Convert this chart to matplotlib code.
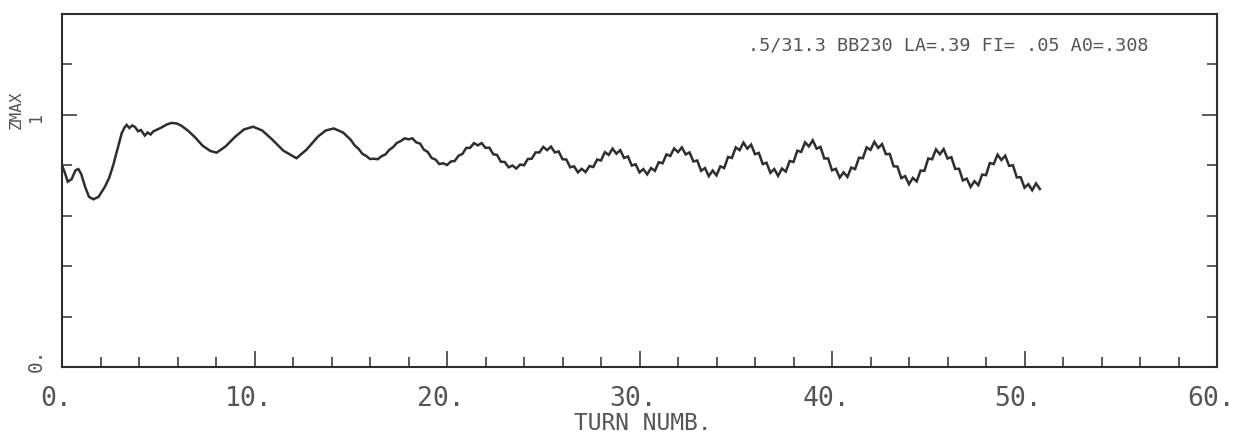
import numpy as np
import matplotlib
matplotlib.use("Agg")
import matplotlib.pyplot as plt
import matplotlib.transforms as mtransforms
from matplotlib.ticker import MultipleLocator, FixedLocator

# ---- data ----
turn_early = [0.0, 0.15, 0.3, 0.5, 0.7, 0.85, 1.0, 1.2, 1.4, 1.63, 1.9, 2.23, 2.45, 2.66,
              2.9, 3.1, 3.25, 3.36, 3.5, 3.65, 3.79, 3.95, 4.1, 4.3, 4.45, 4.6, 4.75, 4.9,
              5.17, 5.45, 5.69, 5.95, 6.2, 6.55, 6.9, 7.3, 7.7, 8.03, 8.5, 8.98, 9.45, 9.93,
              10.4, 10.88, 11.5, 12.18, 12.7, 13.3, 13.7, 14.12, 14.6]
zmax_early = [0.80, 0.77, 0.735, 0.745, 0.78, 0.785, 0.765, 0.715, 0.675, 0.665, 0.675, 0.715,
              0.75, 0.80, 0.87, 0.927, 0.950, 0.960, 0.948, 0.958, 0.952, 0.935, 0.940, 0.918,
              0.930, 0.922, 0.935, 0.940, 0.950, 0.962, 0.968, 0.966, 0.957, 0.937, 0.912,
              0.878, 0.857, 0.850, 0.875, 0.912, 0.942, 0.953, 0.938, 0.905, 0.858, 0.828,
              0.862, 0.914, 0.938, 0.946, 0.930]

# sampled every 0.2 turns from 15.0 to 50.8
turn_start, turn_step = 15.0, 0.2
zmax_late = [
    0.901, 0.879, 0.866, 0.846, 0.837, 0.825, 0.826, 0.824, 0.836, 0.843,
    0.861, 0.872, 0.889, 0.896, 0.907, 0.903, 0.907, 0.891, 0.886, 0.862,
    0.853, 0.829, 0.823, 0.805, 0.808, 0.801, 0.815, 0.817, 0.838, 0.845,
    0.869, 0.869, 0.888, 0.879, 0.888, 0.869, 0.870, 0.844, 0.841, 0.814,
    0.813, 0.792, 0.799, 0.787, 0.803, 0.800, 0.825, 0.826, 0.851, 0.851,
    0.873, 0.860, 0.874, 0.851, 0.855, 0.824, 0.823, 0.792, 0.796, 0.772,
    0.786, 0.773, 0.797, 0.793, 0.823, 0.819, 0.852, 0.841, 0.866, 0.846,
    0.860, 0.829, 0.835, 0.799, 0.804, 0.772, 0.785, 0.764, 0.789, 0.778,
    0.812, 0.808, 0.843, 0.837, 0.867, 0.852, 0.871, 0.843, 0.851, 0.815,
    0.819, 0.778, 0.789, 0.757, 0.779, 0.760, 0.796, 0.789, 0.833, 0.829,
    0.871, 0.860, 0.890, 0.866, 0.882, 0.844, 0.849, 0.805, 0.810, 0.770,
    0.785, 0.758, 0.787, 0.775, 0.817, 0.813, 0.858, 0.853, 0.891, 0.875,
    0.899, 0.866, 0.873, 0.827, 0.827, 0.780, 0.786, 0.751, 0.772, 0.754,
    0.791, 0.785, 0.830, 0.828, 0.871, 0.861, 0.893, 0.869, 0.884, 0.844,
    0.845, 0.796, 0.795, 0.749, 0.757, 0.725, 0.750, 0.736, 0.779, 0.778,
    0.827, 0.824, 0.863, 0.844, 0.864, 0.827, 0.832, 0.786, 0.786, 0.740,
    0.747, 0.714, 0.737, 0.721, 0.763, 0.761, 0.809, 0.805, 0.842, 0.821,
    0.838, 0.798, 0.800, 0.752, 0.753, 0.711, 0.725, 0.701, 0.728, 0.706,
]
turn_late = turn_start + turn_step * np.arange(len(zmax_late))

turn = np.concatenate([turn_early, turn_late])
zmax = np.concatenate([zmax_early, zmax_late])

x_ticklabels = ["0.", "10.", "20.", "30.", "40.", "50.", "60."]
annotation = ".5/31.3 BB230 LA=.39 FI= .05 A0=.308"

# ---- figure ----
W, H = 1239, 438
fig = plt.figure(figsize=(W / 100, H / 100), dpi=100)
ax = fig.add_axes([62 / W, 1 - 367 / H, (1217 - 62) / W, (367 - 14) / H])

ink = "#2e2e2e"
txt = "#555555"
ax.plot(turn, zmax, color=ink, lw=1.8, solid_joinstyle="miter")

ax.set_xlim(0, 60)
ax.set_ylim(0, 1.4)
for s in ax.spines.values():
    s.set_color(ink)
    s.set_linewidth(1.5)

mono = "DejaVu Sans Mono"
ax.xaxis.set_major_locator(MultipleLocator(10))
ax.xaxis.set_minor_locator(MultipleLocator(2))
ax.set_xticks(np.arange(0, 61, 10))
ax.set_xticklabels(x_ticklabels, fontsize=19, color=txt, fontfamily=mono)
ax.tick_params(axis="x", which="major", direction="in", length=11.5, width=1.1,
               color=ink, pad=14, top=False)
ax.tick_params(axis="x", which="minor", direction="in", length=7, width=1.1,
               color=ink, top=False)
shift = mtransforms.ScaledTranslation(-6 / 100, 0, fig.dpi_scale_trans)
for lab in ax.get_xticklabels():
    lab.set_transform(lab.get_transform() + shift)

ax.yaxis.set_major_locator(FixedLocator([1.0]))
ax.yaxis.set_minor_locator(FixedLocator([0.2, 0.4, 0.6, 0.8, 1.2]))
ax.tick_params(axis="y", which="major", direction="in", length=11, width=1.1,
               color=ink, left=True, right=True, labelleft=False)
ax.tick_params(axis="y", which="minor", direction="in", length=7.5, width=1.1,
               color=ink, left=True, right=True)

fkw = dict(fontfamily=mono, color=txt)
fig.text(16 / W, 1 - 110 / H, "ZMAX", rotation=90, ha="center", va="center",
         fontsize=11.5, **fkw)
fig.text(36 / W, 1 - 118 / H, "1", rotation=90, ha="center", va="center",
         fontsize=12, **fkw)
fig.text(36 / W, 1 - 360 / H, "0.", rotation=90, ha="center", va="center",
         fontsize=14, **fkw)
fig.text(643 / W, 1 - 424 / H, "TURN NUMB.", ha="center", va="center",
         fontsize=16.5, **fkw)
fig.text(748 / W, 1 - 46 / H, annotation, ha="left", va="center",
         fontsize=13.3, **fkw)

fig.savefig("out.png", dpi=100, facecolor="white")
